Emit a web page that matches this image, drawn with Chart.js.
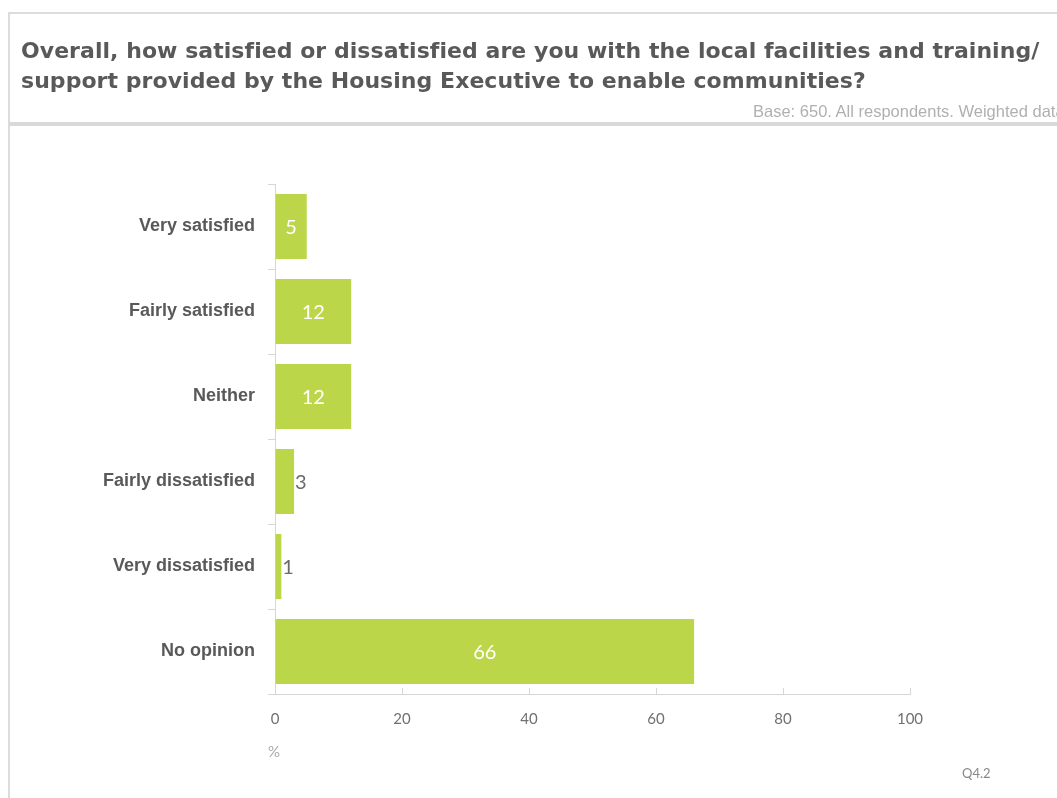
<!DOCTYPE html>
<html>
<head>
<meta charset="utf-8">
<script src="https://cdn.jsdelivr.net/npm/chart.js@4/dist/chart.umd.min.js"></script>
<style>
  html, body { margin: 0; padding: 0; background: #fff; overflow: hidden; }
  #page { position: relative; width: 1057px; height: 798px; overflow: hidden; }
  #head {
    position: absolute; left: 8px; top: 12px; width: 1100px; height: 108px;
    border-top: 2px solid #dcdcdc; border-left: 2px solid #dcdcdc; border-bottom: 4px solid #d9d9d9;
  }
  #body-box {
    position: absolute; left: 8px; top: 126px; width: 1100px; height: 700px;
    border-left: 2px solid #dcdcdc;
  }
  #title {
    position: absolute; left: 21px; top: 36px; margin: 0;
    font: bold 22px "DejaVu Sans", sans-serif; letter-spacing: 0.05px;
    line-height: 30px; color: #595959; white-space: nowrap;
  }
  #base {
    position: absolute; left: 753px; top: 102px;
    font: 16.5px "Liberation Sans", Arial, sans-serif; color: #b0b0b0; white-space: nowrap;
  }
  #unit {
    position: absolute; left: 268px; top: 742px;
    font: 15px Lato, sans-serif; color: #aaa;
  }
  #qref {
    position: absolute; left: 962px; top: 765px;
    font: 13px Lato, sans-serif; color: #888;
  }
  #wrap { position: absolute; left: 0; top: 0; width: 1057px; height: 798px; }
</style>
</head>
<body>
<div id="page">
  <div id="head"></div>
  <div id="body-box"></div>
  <div id="wrap"><canvas id="chart"></canvas></div>
  <div id="title">Overall, how satisfied or dissatisfied are you with the local facilities and training/<br>support provided by the Housing Executive to enable communities?</div>
  <div id="base">Base: 650. All respondents. Weighted data</div>
  <div id="unit">%</div>
  <div id="qref">Q4.2</div>
</div>
<script>
const categories = [
  "Very satisfied",
  "Fairly satisfied",
  "Neither",
  "Fairly dissatisfied",
  "Very dissatisfied",
  "No opinion",
];
const percentages = [5, 12, 12, 3, 1, 66];
const axisMin = 0;
const axisMax = 100;
const axisStep = 20;

const barColor = "#bcd64a";
const axisColor = "#d6d6d6";

// value labels: white and centred inside wide bars, grey just past short ones
const valueLabels = {
  id: "valueLabels",
  afterDatasetsDraw(chart) {
    const ctx = chart.ctx;
    const meta = chart.getDatasetMeta(0);
    ctx.save();
    ctx.font = "20px Lato, sans-serif";
    ctx.textBaseline = "middle";
    meta.data.forEach((bar, i) => {
      const v = chart.data.datasets[0].data[i];
      if (v >= 5) {
        ctx.fillStyle = "#ffffff";
        ctx.textAlign = "center";
        ctx.fillText(String(v), (bar.x + bar.base) / 2, bar.y + 1);
      } else {
        ctx.fillStyle = "#6b6b6b";
        ctx.textAlign = "left";
        ctx.fillText(String(v), bar.x + 1, bar.y + 1);
      }
    });
    ctx.restore();
  },
};

const data = {
  labels: categories,
  datasets: [
    {
      label: "%",
      data: percentages,
      backgroundColor: barColor,
      borderWidth: 0,
      categoryPercentage: 1,
      barPercentage: 0.765,
    },
  ],
};

const config = {
  type: "bar",
  data: data,
  options: {
    indexAxis: "y",
    animation: { duration: 0 },
    responsive: true,
    maintainAspectRatio: false,
    layout: {
      padding: { top: 184, right: 147, bottom: 0, left: 0 },
    },
    plugins: {
      legend: { display: false },
      tooltip: { enabled: false },
    },
    scales: {
      y: {
        afterFit: (scale) => { scale.width = 275; },
        grid: {
          display: true,
          offset: true,
          drawOnChartArea: false,
          drawTicks: true,
          tickLength: 7,
          color: axisColor,
          lineWidth: 1,
        },
        border: { display: true, color: axisColor, width: 1 },
        ticks: {
          padding: 13,
          color: "#595959",
          font: { family: "Liberation Sans, Arial, sans-serif", size: 18, weight: "bold" },
        },
      },
      x: {
        min: axisMin,
        max: axisMax,
        afterFit: (scale) => { scale.height = 104; },
        grid: {
          drawOnChartArea: false,
          drawTicks: true,
          tickLength: -6,
          color: axisColor,
          lineWidth: 1,
        },
        border: { display: true, color: axisColor, width: 1 },
        ticks: {
          stepSize: axisStep,
          padding: 22,
          color: "#707070",
          font: { family: "Lato, sans-serif", size: 15 },
        },
      },
    },
  },
  plugins: [valueLabels],
};

new Chart(document.getElementById("chart"), config);
</script>
</body>
</html>
